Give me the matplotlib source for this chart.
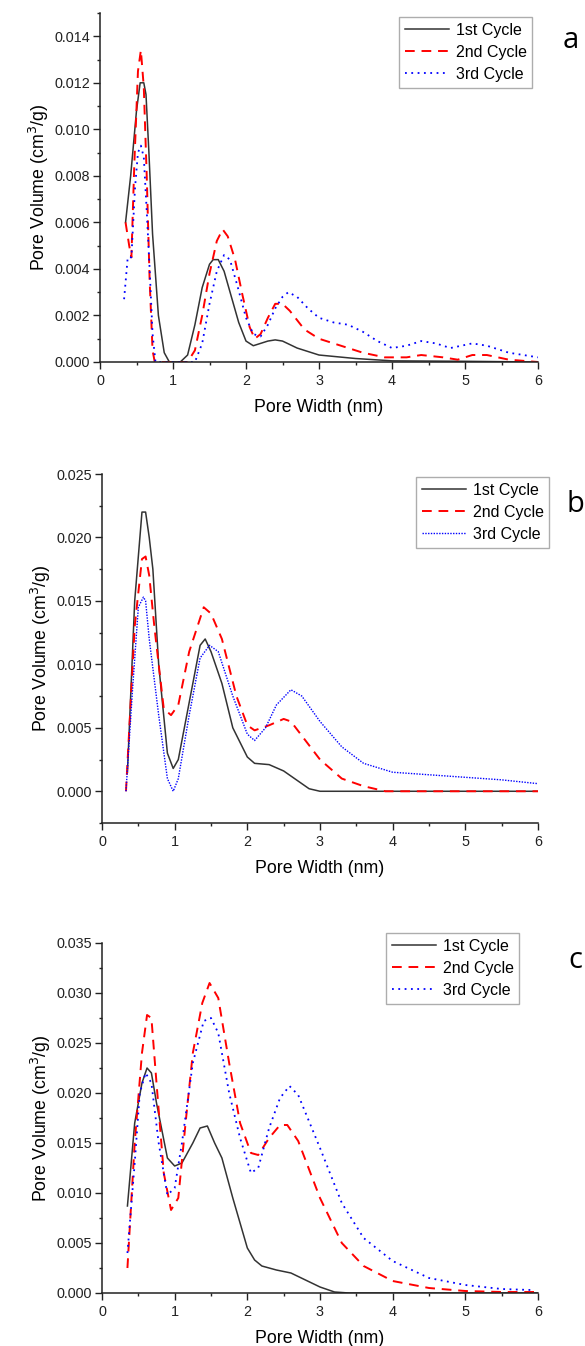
import matplotlib
matplotlib.use("Agg")
import matplotlib.pyplot as plt
from matplotlib.ticker import MultipleLocator, FormatStrFormatter

plt.rcParams['font.family'] = ['Liberation Sans', 'DejaVu Sans']

labels = ["1st Cycle", "2nd Cycle", "3rd Cycle"]

# ---------- Panel a ----------
a1_x = [0.35, 0.42, 0.5, 0.55, 0.6, 0.63, 0.67, 0.72, 0.8, 0.88, 0.95, 1.0, 1.1, 1.2, 1.3, 1.4, 1.5, 1.55, 1.62, 1.7, 1.8, 1.9, 2.0, 2.1, 2.2, 2.3, 2.4, 2.5, 2.7, 3.0, 3.5, 4.0, 5.0, 6.0]
a1_y = [0.006, 0.008, 0.0108, 0.012, 0.012, 0.0115, 0.009, 0.0055, 0.002, 0.0004, 0.0, 0.0, 0.0, 0.0003, 0.0016, 0.0032, 0.0042, 0.0044, 0.0044, 0.0039, 0.0028, 0.0017, 0.0009, 0.0007, 0.0008, 0.0009, 0.00095, 0.0009, 0.0006, 0.0003, 0.00015, 0.00005, 0.00003, 0.0]
a2_x = [0.35, 0.4, 0.43, 0.47, 0.52, 0.56, 0.6, 0.64, 0.68, 0.72, 0.75, 1.0, 1.2, 1.3, 1.4, 1.5, 1.6, 1.68, 1.75, 1.85, 1.95, 2.05, 2.12, 2.2, 2.3, 2.4, 2.5, 2.6, 2.8, 3.0, 3.3, 3.6, 3.9, 4.2, 4.4, 4.7, 4.9, 5.1, 5.3, 5.6, 6.0]
a2_y = [0.006, 0.005, 0.0045, 0.0085, 0.0125, 0.0134, 0.0118, 0.008, 0.0035, 0.0005, 0.0, 0.0, 0.0, 0.0005, 0.002, 0.0038, 0.0052, 0.0057, 0.0054, 0.0044, 0.0029, 0.0015, 0.001, 0.0012, 0.0019, 0.0025, 0.0025, 0.0022, 0.0014, 0.001, 0.0007, 0.0004, 0.0002, 0.0002, 0.0003, 0.0002, 0.0001, 0.0003, 0.0003, 0.0001, 0.0]
a3_x = [0.33, 0.38, 0.43, 0.48, 0.52, 0.56, 0.6, 0.64, 0.68, 0.72, 0.76, 1.0, 1.3, 1.4, 1.5, 1.6, 1.7, 1.78, 1.88, 2.0, 2.1, 2.2, 2.3, 2.4, 2.5, 2.58, 2.7, 2.85, 3.0, 3.2, 3.4, 3.6, 3.8, 4.0, 4.2, 4.4, 4.6, 4.8, 5.1, 5.3, 5.6, 6.0]
a3_y = [0.0027, 0.0045, 0.0045, 0.0075, 0.009, 0.0093, 0.0088, 0.0065, 0.004, 0.0012, 0.0, 0.0, 0.0, 0.0008, 0.0025, 0.0039, 0.0046, 0.0044, 0.0033, 0.0019, 0.0012, 0.0011, 0.0016, 0.0023, 0.0028, 0.003, 0.0028, 0.0023, 0.0019, 0.0017, 0.0016, 0.0013, 0.0009, 0.0006, 0.0007, 0.0009, 0.0008, 0.0006, 0.0008, 0.0007, 0.0004, 0.0002]

# ---------- Panel b ----------
b1_x = [0.35, 0.45, 0.55, 0.6, 0.65, 0.7, 0.78, 0.9, 0.98, 1.05, 1.2, 1.35, 1.42, 1.5, 1.65, 1.8, 2.0, 2.1, 2.3, 2.5, 2.7, 2.85, 3.0, 4.0, 5.0, 6.0]
b1_y = [0.0015, 0.015, 0.022, 0.022, 0.02, 0.0175, 0.01, 0.003, 0.0018, 0.0025, 0.007, 0.0115, 0.012, 0.011, 0.0085, 0.005, 0.0027, 0.0022, 0.0021, 0.0016, 0.0008, 0.0002, 0.0, 0.0, 0.0, 0.0]
b2_x = [0.33, 0.45, 0.55, 0.6, 0.65, 0.72, 0.85, 0.95, 1.05, 1.2, 1.4, 1.5, 1.65, 1.85, 2.0, 2.1, 2.3, 2.5, 2.6, 2.8, 3.0, 3.3, 3.6, 3.9, 4.5, 5.0, 6.0]
b2_y = [0.0, 0.013, 0.0183, 0.0185, 0.017, 0.013, 0.0065, 0.006, 0.0068, 0.011, 0.0145, 0.014, 0.012, 0.0075, 0.0052, 0.0048, 0.0052, 0.0057, 0.0055, 0.004, 0.0025, 0.001, 0.0004, 0.0, 0.0, 0.0, 0.0]
b3_x = [0.33, 0.42, 0.5, 0.57, 0.6, 0.65, 0.78, 0.9, 0.98, 1.05, 1.2, 1.35, 1.48, 1.6, 1.8, 2.0, 2.1, 2.25, 2.4, 2.6, 2.75, 3.0, 3.3, 3.6, 4.0, 4.5, 5.0, 5.5, 6.0]
b3_y = [0.0, 0.008, 0.0145, 0.0153, 0.015, 0.012, 0.006, 0.001, 0.0, 0.001, 0.006, 0.0105, 0.0115, 0.011, 0.0075, 0.0045, 0.004, 0.005, 0.0068, 0.008, 0.0075, 0.0055, 0.0035, 0.0022, 0.0015, 0.0013, 0.0011, 0.0009, 0.0006]

# ---------- Panel c ----------
c1_x = [0.35, 0.45, 0.55, 0.62, 0.68, 0.75, 0.9, 1.0, 1.1, 1.25, 1.35, 1.45, 1.55, 1.65, 1.8, 2.0, 2.1, 2.2, 2.4, 2.6, 2.8, 3.0, 3.2, 3.4, 4.0, 5.0, 6.0]
c1_y = [0.0087, 0.017, 0.021, 0.0225, 0.022, 0.019, 0.0135, 0.0127, 0.013, 0.015, 0.0165, 0.0167, 0.015, 0.0135, 0.0095, 0.0045, 0.0033, 0.0027, 0.0023, 0.002, 0.0013, 0.0006, 0.0001, 0.0, 0.0, 0.0, 0.0]
c2_x = [0.35, 0.45, 0.55, 0.62, 0.68, 0.75, 0.85, 0.95, 1.05, 1.15, 1.25, 1.38, 1.48, 1.6, 1.75, 1.9, 2.05, 2.15, 2.3, 2.45, 2.55, 2.7, 3.0, 3.3, 3.6, 4.0, 4.5, 5.0, 5.5, 6.0]
c2_y = [0.0025, 0.015, 0.024, 0.0278, 0.0275, 0.021, 0.012, 0.0083, 0.0095, 0.017, 0.024, 0.029, 0.031, 0.0295, 0.023, 0.017, 0.014, 0.0138, 0.0155, 0.0168, 0.0168, 0.0152, 0.0095, 0.005, 0.0027, 0.0012, 0.0005, 0.0002, 0.0001, 0.0001]
c3_x = [0.35, 0.45, 0.52, 0.6, 0.68, 0.78, 0.9, 1.0, 1.1, 1.25, 1.4, 1.5, 1.6, 1.75, 1.9, 2.05, 2.15, 2.3, 2.45, 2.58, 2.7, 3.0, 3.3, 3.6, 4.0, 4.5, 5.0, 5.5, 5.9]
c3_y = [0.004, 0.013, 0.02, 0.022, 0.021, 0.015, 0.0098, 0.0105, 0.015, 0.023, 0.0272, 0.0275, 0.026, 0.02, 0.0155, 0.012, 0.0125, 0.0165, 0.0195, 0.0207, 0.0198, 0.0145, 0.009, 0.0055, 0.0032, 0.0015, 0.0008, 0.0004, 0.0003]

W, H = 585, 1346
fig = plt.figure(figsize=(W / 100, H / 100), dpi=100)


def ax_px(left, top, right, bottom):
    return fig.add_axes([left / W, 1 - bottom / H, (right - left) / W, (bottom - top) / H])


panels = [
    dict(box=(100, 13, 538, 362), ylim=(0, 0.015), major=0.002, minor=0.001,
         data=[(a1_x, a1_y), (a2_x, a2_y), (a3_x, a3_y)], dotted=(0, (1, 2.5)), blw=1.3,
         leg=(399, 17), letter=(571, 40, 'a')),
    dict(box=(102, 474, 538, 823), ylim=(-0.0025, 0.025), major=0.005, minor=0.0025,
         data=[(b1_x, b1_y), (b2_x, b2_y), (b3_x, b3_y)], dotted=(0, (1, 1)), blw=1.0,
         leg=(416, 477), letter=(575, 505, 'b')),
    dict(box=(102, 943, 538, 1293), ylim=(0, 0.035), major=0.005, minor=0.0025,
         data=[(c1_x, c1_y), (c2_x, c2_y), (c3_x, c3_y)], dotted=(0, (1, 2.5)), blw=1.3,
         leg=(386, 933), letter=(575, 960, 'c')),
]

for p in panels:
    ax = ax_px(*p['box'])
    (x1, y1), (x2, y2), (x3, y3) = p['data']
    ax.plot(x1, y1, color='#333333', lw=1.1, ls='-', label=labels[0])
    ax.plot(x2, y2, color='#ff0000', lw=1.4, ls=(0, (5, 3.5)), label=labels[1])
    ax.plot(x3, y3, color='#0000ff', lw=p['blw'], ls=p['dotted'], label=labels[2])
    ax.set_xlim(0, 6)
    ax.set_ylim(*p['ylim'])
    ax.xaxis.set_major_locator(MultipleLocator(1))
    ax.xaxis.set_minor_locator(MultipleLocator(0.5))
    ax.yaxis.set_major_locator(MultipleLocator(p['major']))
    ax.yaxis.set_minor_locator(MultipleLocator(p['minor']))
    ax.set_yticks([t for t in ax.get_yticks() if -1e-9 <= t <= p['ylim'][1] + 1e-9])
    ax.yaxis.set_major_formatter(FormatStrFormatter('%.3f'))
    for s in ['top', 'right']:
        ax.spines[s].set_visible(False)
    for s in ['left', 'bottom']:
        ax.spines[s].set_linewidth(1.1)
        ax.spines[s].set_color('#222222')
    ax.tick_params(which='major', length=4.7, width=1.0, pad=2.5, labelsize=10.4, colors='#222222')
    ax.tick_params(axis='x', which='major', pad=4)
    ax.tick_params(which='minor', length=2.5, width=1.0, colors='#222222')
    ax.set_xlabel('Pore Width (nm)', fontsize=12.8, labelpad=8)
    ax.set_ylabel('Pore Volume (cm$^3$/g)', fontsize=12.8, labelpad=2)
    lx, ly = p['leg']
    leg = ax.legend(loc='upper left', bbox_to_anchor=(lx / W, 1 - ly / H),
                    bbox_transform=fig.transFigure, fontsize=11.5, frameon=True,
                    fancybox=False, handlelength=2.8, handletextpad=0.4,
                    borderpad=0.35, labelspacing=0.45, borderaxespad=0)
    leg.get_frame().set_edgecolor('#999999')
    leg.get_frame().set_linewidth(1.0)
    tx, ty, t = p['letter']
    fig.text(tx / W, 1 - ty / H, t, fontsize=21, family='Open Sans',
             ha='center', va='center')

fig.savefig('out.png', dpi=100)
